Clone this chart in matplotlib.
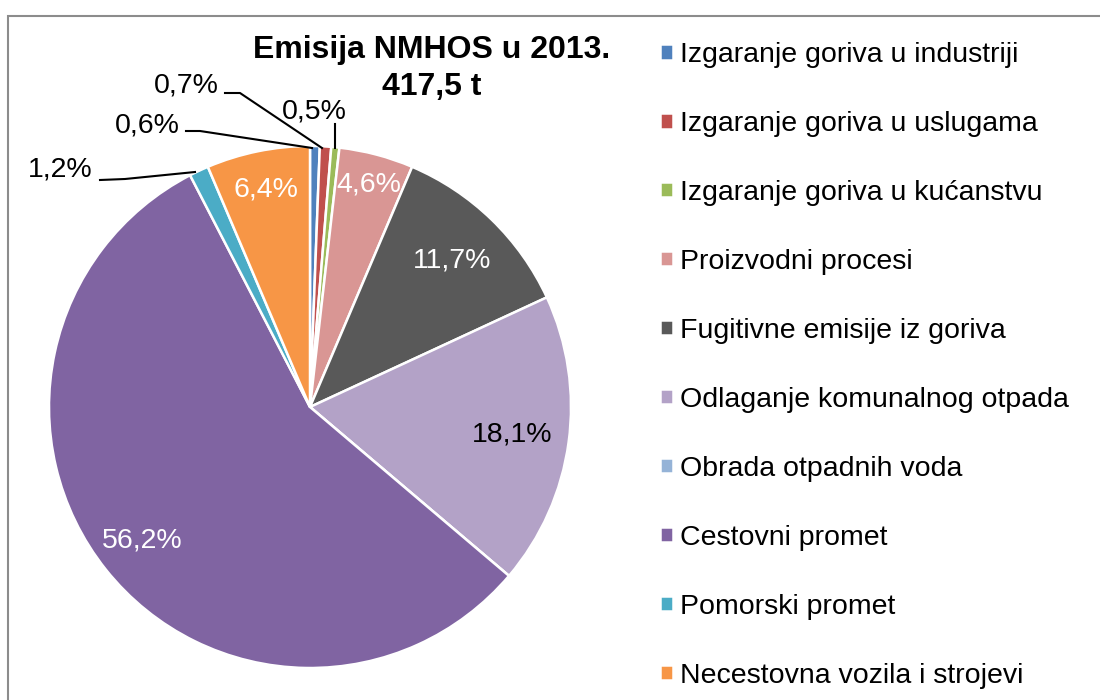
import numpy as np
import matplotlib
matplotlib.use("Agg")
import matplotlib.pyplot as plt
from matplotlib.patches import Rectangle

plt.rcParams["font.family"] = ["Liberation Sans", "DejaVu Sans"]

# ---------------------------------------------------------------------------
# Podaci
# ---------------------------------------------------------------------------
categories = [
    "Izgaranje goriva u industriji",
    "Izgaranje goriva u uslugama",
    "Izgaranje goriva u kućanstvu",
    "Proizvodni procesi",
    "Fugitivne emisije iz goriva",
    "Odlaganje komunalnog otpada",
    "Obrada otpadnih voda",
    "Cestovni promet",
    "Pomorski promet",
    "Necestovna vozila i strojevi",
]
shares = [0.6, 0.7, 0.5, 4.6, 11.7, 18.1, 0.0, 56.2, 1.2, 6.4]
colors = ["#4F81BD", "#C0504D", "#9BBB59", "#D99694", "#595959",
          "#B3A2C7", "#95B3D7", "#8064A2", "#4BACC6", "#F79646"]
title_lines = ["Emisija NMHOS u 2013.", "417,5 t"]

# unutarnje oznake: (indeks, udaljenost od sredista, boja teksta)
inside = [(3, 0.88, "white"), (4, 0.78, "white"), (5, 0.78, "black"),
          (7, 0.82, "white"), (9, 0.85, "white")]
# vanjske oznake s linijama: (indeks, polozaj teksta px, tocke linije px)
outside = [
    (1, (219, 85), [(225, 93), (240, 93), (322, 148)]),
    (0, (180, 125), [(186, 131), (200, 131), (312, 148)]),
    (2, (314, 111), [(335, 124), (335, 148)]),
    (8, (93, 170), [(100, 180), (125, 179), (195, 172)]),
]

W, H = 1100, 700
CX, CY, R = 310, 407, 261
FS = 20.5


def to_data(p):
    return ((p[0] - CX) / R, (CY - p[1]) / R)


def fmt(v):
    return f"{v:.1f}%".replace(".", ",")


fig = plt.figure(figsize=(W / 100, H / 100), dpi=100)
ax = fig.add_axes([(CX - R) / W, (H - CY - R) / H, 2 * R / W, 2 * R / H])
wedges, _ = ax.pie(shares, colors=colors, startangle=90, counterclock=False,
                   radius=1.0, wedgeprops=dict(edgecolor="white", linewidth=1.8))
ax.set_xlim(-1, 1)
ax.set_ylim(-1, 1)
ax.axis("off")

for idx, dist, col in inside:
    w = wedges[idx]
    ang = np.deg2rad((w.theta1 + w.theta2) / 2)
    ax.text(dist * np.cos(ang), dist * np.sin(ang), fmt(shares[idx]),
            ha="center", va="center", color=col, fontsize=FS)

for idx, tpos, pts in outside:
    xs, ys = zip(*[to_data(p) for p in pts])
    ax.plot(xs, ys, color="black", lw=1.5, clip_on=False)
    tx, ty = to_data(tpos)
    ha = "center" if idx == 2 else "right"
    ax.text(tx, ty, fmt(shares[idx]), ha=ha, va="center",
            fontsize=FS, color="black")

# naslov u dva retka
for line, ypx in zip(title_lines, [50, 87]):
    fig.text(432 / W, 1 - ypx / H, line, ha="center", va="center",
             fontsize=23, fontweight="bold")

fig.legend(wedges, categories, loc="upper left",
           bbox_to_anchor=(660 / W, 1 - 42 / H), frameon=False,
           fontsize=FS, handlelength=0.45, handleheight=0.45,
           handletextpad=0.25, labelspacing=1.51, borderpad=0,
           borderaxespad=0)

# okvir grafikona
fig.patches.append(Rectangle((8 / W, -0.1), 1.2, 1 - 16 / H + 0.1,
                             transform=fig.transFigure, fill=False,
                             edgecolor="#8c8c8c", linewidth=1.5))

fig.savefig("out.png", dpi=100)
